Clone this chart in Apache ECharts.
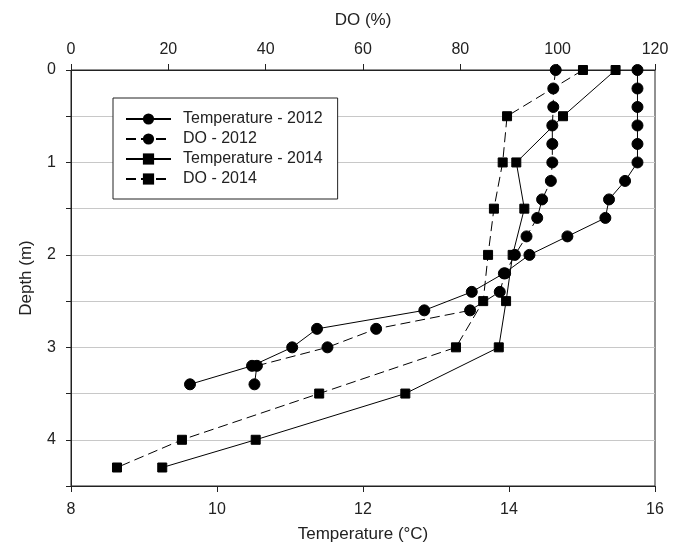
<!DOCTYPE html>
<html>
<head>
<meta charset="utf-8">
<script src="https://cdn.jsdelivr.net/npm/echarts@6/dist/echarts.min.js"></script>
<style>html,body{margin:0;padding:0;background:#fff;}#chart{width:678px;height:548px;}</style>
</head>
<body>
<div id="chart"></div>
<script>
const depth2012 = [0, 0.2, 0.4, 0.6, 0.8, 1.0, 1.2, 1.4, 1.6, 1.8, 2.0, 2.2, 2.4, 2.6, 2.8, 3.0, 3.2, 3.4];
const temp2012 = [15.76, 15.76, 15.76, 15.76, 15.76, 15.76, 15.59, 15.37, 15.32, 14.80, 14.28, 13.93, 13.49, 12.84, 11.37, 11.03, 10.48, 9.63];
const do2012 = [99.6, 99.1, 99.1, 98.9, 98.9, 98.9, 98.6, 96.8, 95.8, 93.6, 91.2, 89.2, 88.1, 82.0, 62.7, 52.7, 38.2, 37.7];
const depth2014 = [0, 0.5, 1.0, 1.5, 2.0, 2.5, 3.0, 3.5, 4.0, 4.3];
const temp2014 = [15.46, 14.74, 14.10, 14.21, 14.05, 13.96, 13.86, 12.58, 10.53, 9.25];
const do2014 = [105.2, 89.6, 88.7, 86.9, 85.7, 84.7, 79.1, 51.0, 22.8, 9.45];
const seriesNames = ['Temperature - 2012', 'DO - 2012', 'Temperature - 2014', 'DO - 2014'];

const pair = (xs, ds) => xs.map((x, i) => [x, ds[i]]);
const FONT = 'Liberation Sans, Arial, sans-serif';
const TXT = '#222';

const chart = echarts.init(document.getElementById('chart'), null, {renderer: 'canvas'});
function mk(name, xs, ds, xi, sym, size, dashed) {
  return {
    name: name, type: 'line', xAxisIndex: xi, yAxisIndex: 0,
    data: pair(xs, ds), symbol: sym, symbolSize: size, showSymbol: true,
    lineStyle: {color: '#000', width: 1, type: dashed ? [10, 5] : 'solid'},
    itemStyle: {color: '#000', borderColor: '#000'},
    emphasis: {disabled: true}, animation: false
  };
}
chart.setOption({
  animation: false,
  backgroundColor: '#fff',
  textStyle: {fontFamily: FONT, color: TXT},
  grid: {left: 71, right: 23, top: 70, bottom: 62, containLabel: false, outerBoundsMode: 'none',
    show: true, borderColor: '#222', borderWidth: 1, backgroundColor: 'transparent'},
  legend: {
    orient: 'vertical', left: 113, top: 98,
    data: seriesNames,
    itemWidth: 45, itemHeight: 14, itemGap: 2,
    padding: [12, 15, 11, 12],
    borderColor: '#222', borderWidth: 1, backgroundColor: '#fff',
    textStyle: {fontFamily: FONT, fontSize: 16, lineHeight: 18, color: TXT, padding: [0, 0, 0, 7]}
  },
  xAxis: [
    {
      type: 'value', position: 'bottom', min: 8, max: 16, interval: 2,
      name: 'Temperature (°C)', nameLocation: 'middle', nameGap: 40,
      nameTextStyle: {fontFamily: FONT, fontSize: 17, color: TXT},
      axisLine: {show: true, onZero: false, lineStyle: {color: '#222', width: 1}},
      axisTick: {show: true, length: 6, lineStyle: {color: '#222'}},
      axisLabel: {fontFamily: FONT, fontSize: 16, color: TXT, margin: 16},
      splitLine: {show: false}
    },
    {
      type: 'value', position: 'top', min: 0, max: 120, interval: 20,
      name: 'DO (%)', nameLocation: 'middle', nameGap: 41,
      nameTextStyle: {fontFamily: FONT, fontSize: 17, color: TXT},
      axisLine: {show: true, onZero: false, lineStyle: {color: '#222', width: 1}},
      axisTick: {show: true, length: 6, lineStyle: {color: '#222'}},
      axisLabel: {fontFamily: FONT, fontSize: 16, color: TXT, margin: 12},
      splitLine: {show: false}
    }
  ],
  yAxis: [{
    type: 'value', inverse: true, min: 0, max: 4.5, interval: 0.5,
    name: 'Depth (m)', nameLocation: 'middle', nameGap: 36, nameRotate: 90,
    nameTextStyle: {fontFamily: FONT, fontSize: 17, color: TXT},
    axisLine: {show: true, onZero: false, lineStyle: {color: '#222', width: 1}},
    axisTick: {show: true, length: 5, lineStyle: {color: '#222'}},
    axisLabel: {fontFamily: FONT, fontSize: 16, color: TXT, margin: 15,
      formatter: v => (Math.abs(v - Math.round(v)) < 1e-9 ? String(Math.round(v)) : '')},
    splitLine: {show: true, lineStyle: {color: '#c8c8c8', width: 1}}
  }],
  series: [
    mk(seriesNames[0], temp2012, depth2012, 0, 'circle', 11, false),
    mk(seriesNames[1], do2012, depth2012, 1, 'circle', 11, true),
    mk(seriesNames[2], temp2014, depth2014, 0, 'rect', 9, false),
    mk(seriesNames[3], do2014, depth2014, 1, 'rect', 9, true)
  ]
});
</script>
</body>
</html>
